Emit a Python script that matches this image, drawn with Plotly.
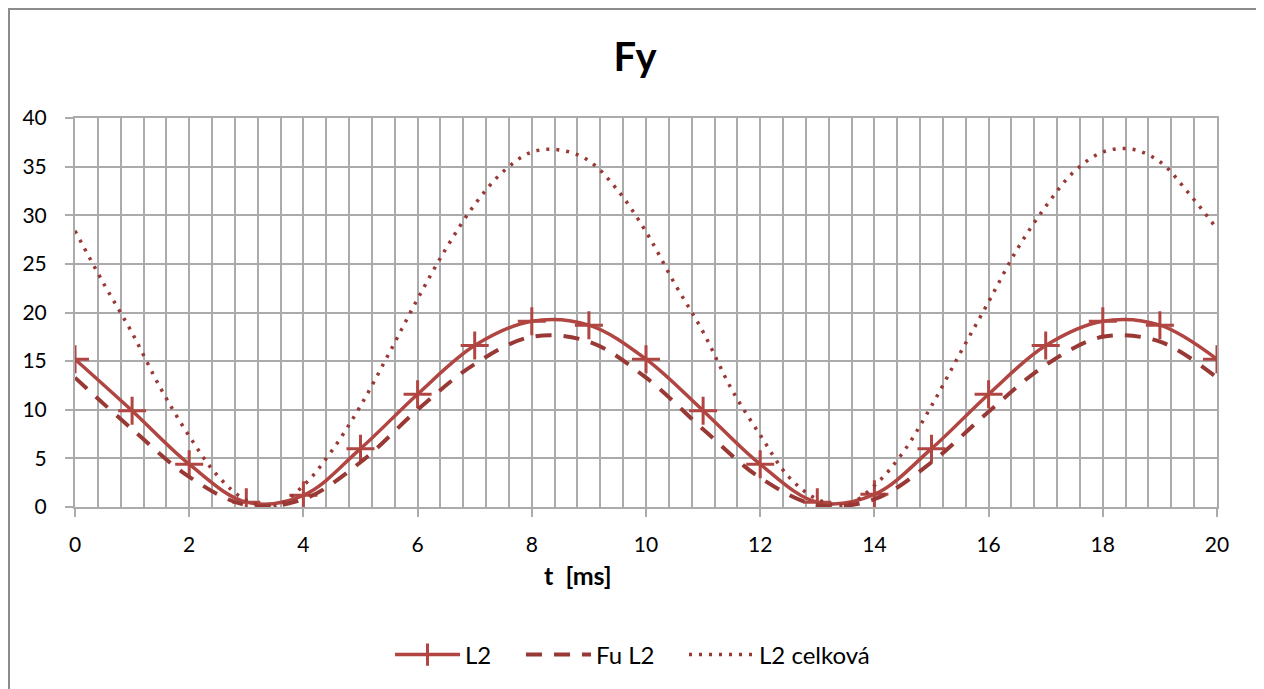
import plotly.graph_objects as go

# --- data ---
t_ms = list(range(0, 21))
l2 = [15.2, 9.9, 4.4, 0.5, 1.2, 6.0, 11.6, 16.6, 19.1, 18.7, 15.2,
      9.9, 4.4, 0.5, 1.3, 6.0, 11.6, 16.6, 19.1, 18.7, 15.2]
fu_l2 = [13.3, 8.0, 3.1, 0.2, 0.8, 4.6, 10.0, 14.7, 17.5, 17.0, 13.3,
         8.0, 3.0, 0.2, 0.8, 4.6, 9.8, 14.6, 17.5, 17.0, 13.3]

t_half = [i / 2 for i in range(0, 41)]
l2_celkova = [28.4, 23.0, 17.9, 12.2, 7.3, 3.2, 0.7, 0.1, 2.2, 5.8, 10.4,
              15.8, 21.4, 26.6, 31.1, 34.5, 36.5, 36.7, 35.6, 32.6, 28.3,
              23.0, 18.0, 12.1, 7.4, 3.1, 0.8, 0.2, 2.2, 5.6, 10.4,
              15.8, 21.1, 26.5, 30.9, 34.5, 36.5, 36.8, 35.5, 32.3, 28.6]

x_ticks = list(range(0, 21, 2))
y_ticks = list(range(0, 41, 5))

FONT = "Lato"
RED = "#B04541"
DARK_RED = "#993935"
GRID = "#ababab"

# page body has an 8px margin, so the figure is drawn 8px smaller
W, H = 1256, 681
OFF = 8
PW, PH = 1142, 389  # plot area size in px

fig = go.Figure()

fig.add_trace(go.Scatter(
    x=t_ms, y=l2, name="L2", mode="lines+markers", legend="legend",
    line=dict(color=RED, width=3.5, shape="spline"),
    marker=dict(symbol="cross-thin", size=20, line=dict(color=RED, width=3)),
))
fig.add_trace(go.Scatter(
    x=t_ms, y=fu_l2, name="Fu L2", mode="lines", legend="legend2",
    line=dict(color=DARK_RED, width=4, shape="spline", dash="16px,12px"),
))
fig.add_trace(go.Scatter(
    x=t_half, y=l2_celkova, name="L2 celková", mode="lines", legend="legend3",
    line=dict(color=DARK_RED, width=3.5, shape="spline", dash="3px,7px"),
))


def legend_at(sample_left):
    # one legend box per series, placed by the left edge of its line sample
    return dict(orientation="h", x=(sample_left - OFF - 6) / W, xref="container",
                xanchor="left", y=1 - (655 - OFF) / H, yref="container",
                yanchor="middle", itemwidth=65, font=dict(size=24),
                bgcolor="rgba(0,0,0,0)")


fig.update_layout(
    width=W, height=H,
    paper_bgcolor="white", plot_bgcolor="white",
    margin=dict(l=75 - OFF, r=W - (1217 - OFF), t=118 - OFF, b=H - (507 - OFF)),
    font=dict(family=FONT, size=21, color="black"),
    title=dict(text="<b>Fy</b>", font=dict(size=40, family=FONT),
               x=(635 - OFF) / W, xref="container", xanchor="center",
               y=1 - (57 - OFF) / H, yref="container", yanchor="middle"),
    showlegend=True,
    legend=legend_at(396),
    legend2=legend_at(527),
    legend3=legend_at(690),
    # chart border (figure px -> paper coords of the plot area)
    shapes=[dict(type="rect", xref="paper", yref="paper",
                 x0=(1 - 67) / PW, x1=(1250 - 67) / PW,
                 y0=(499 - 720) / PH, y1=(499 - 1) / PH,
                 line=dict(color="#8c8c8c", width=2), layer="below")],
    annotations=[dict(text="<b>t  [ms]</b>", xref="paper", yref="paper",
                      x=(578 - 75) / PW, y=(507 - 575) / PH,
                      xanchor="center", yanchor="middle", showarrow=False,
                      font=dict(size=25, family=FONT))],
)

fig.update_xaxes(
    range=[0, 20], tickvals=x_ticks, ticks="outside", ticklen=8,
    tickwidth=2, tickcolor=GRID, ticklabelstandoff=10,
    showgrid=True, gridcolor=GRID, gridwidth=2,
    minor=dict(dtick=0.4, tick0=0, showgrid=True, gridcolor=GRID, gridwidth=2),
    showline=True, linecolor=GRID, linewidth=2, mirror=True, zeroline=False,
    automargin=False,
)
fig.update_yaxes(
    range=[0, 40], tickvals=y_ticks, ticks="outside", ticklen=8,
    tickwidth=2, tickcolor=GRID, ticklabelstandoff=14,
    showgrid=True, gridcolor=GRID, gridwidth=2,
    showline=True, linecolor=GRID, linewidth=2, mirror=True, zeroline=False,
    automargin=False,
)

fig.write_html("out.html")
